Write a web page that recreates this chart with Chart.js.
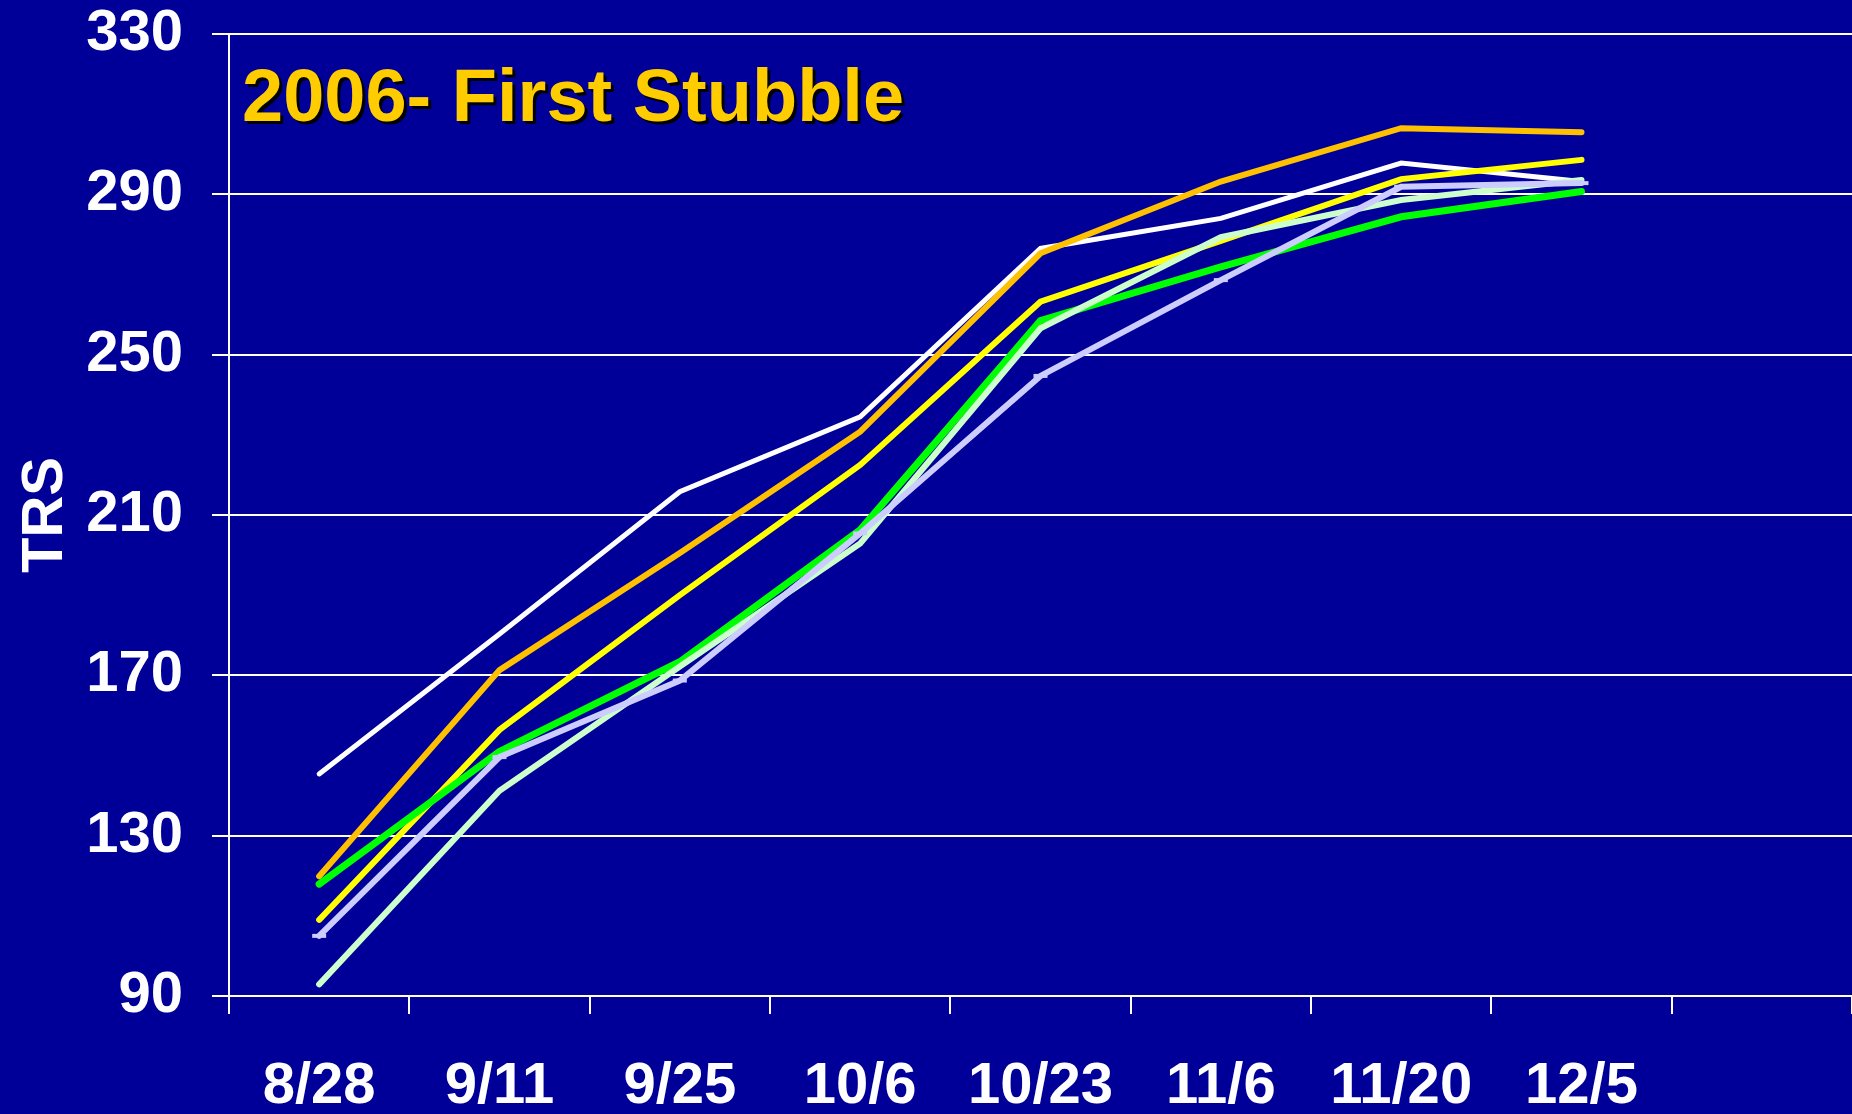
<!DOCTYPE html>
<html>
<head>
<meta charset="utf-8">
<title>2006- First Stubble</title>
<script src="https://cdn.jsdelivr.net/npm/chart.js@4.4.1/dist/chart.umd.min.js"></script>
<style>
  html, body { margin: 0; padding: 0; background: #000099; overflow: hidden; }
  #wrap { position: relative; width: 1852px; height: 1114px; }
  canvas { display: block; }
</style>
</head>
<body>
<div id="wrap"><canvas id="trsChart"></canvas></div>
<script>
  // sampling dates (last slot is the empty category at the right edge)
  const dates = ['8/28', '9/11', '9/25', '10/6', '10/23', '11/6', '11/20', '12/5', ''];
  const yTicks = [90, 130, 170, 210, 250, 290, 330];

  // TRS per sampling date, one array per line
  const lavenderLine = [105.0, 149.6, 168.7, 205.4, 244.7, 268.6, 291.9, 292.8];
  const mintLine = [92.9, 141.2, 172.2, 202.9, 256.6, 279.3, 288.6, 293.6];
  const greenLine = [117.9, 151.0, 173.4, 206.3, 258.5, 271.9, 284.4, 290.7];
  const yellowLine = [109.0, 156.4, 190.0, 222.5, 263.2, 278.4, 293.8, 298.6];
  const orangeLine = [119.9, 171.3, 200.5, 230.8, 275.3, 293.2, 306.5, 305.5];
  const whiteLine = [145.4, 180.3, 215.8, 234.5, 276.5, 284.0, 297.8, 293.2];

  const FONT = "'Liberation Sans', Arial, sans-serif";

  function line(label, data, color, width, extra) {
    return Object.assign({
      label: label,
      data: data,
      borderColor: color,
      backgroundColor: color,
      borderWidth: width,
      borderCapStyle: 'round',
      pointRadius: 0,
      tension: 0,
      fill: false
    }, extra || {});
  }

  const chartTitle = {
    id: 'chartTitle',
    afterDraw(chart) {
      const { ctx } = chart;
      ctx.save();
      ctx.font = 'bold 74px ' + FONT;
      ctx.textBaseline = 'alphabetic';
      ctx.shadowColor = '#000000';
      ctx.shadowOffsetX = 3;
      ctx.shadowOffsetY = 3;
      ctx.shadowBlur = 0;
      ctx.fillStyle = '#FFCC00';
      ctx.fillText('2006- First Stubble', 242, 121);
      ctx.restore();
    }
  };

  new Chart(document.getElementById('trsChart').getContext('2d'), {
    type: 'line',
    plugins: [chartTitle],
    data: {
      labels: dates,
      datasets: [
        line('Lavender', lavenderLine, '#CCCCFF', 6, { pointStyle: 'line', pointRadius: 7, pointBorderWidth: 4, pointBorderColor: '#CCCCFF' }),
        line('Mint', mintLine, '#CCFFCC', 6),
        line('Green', greenLine, '#00FF00', 7),
        line('Yellow', yellowLine, '#FFFF00', 6),
        line('Orange', orangeLine, '#FFC000', 6),
        line('White', whiteLine, '#FFFFFF', 5)
      ]
    },
    options: {
      responsive: true,
      maintainAspectRatio: false,
      animation: false,
      layout: { autoPadding: false, padding: { top: 34, right: 0, bottom: 0, left: 0 } },
      plugins: {
        legend: { display: false },
        tooltip: { enabled: false }
      },
      scales: {
        x: {
          offset: true,
          grid: {
            offset: true,
            drawOnChartArea: false,
            drawTicks: true,
            tickLength: 18,
            color: '#FFFFFF',
            lineWidth: 2
          },
          border: { display: false },
          ticks: {
            color: '#FFFFFF',
            padding: 38,
            maxRotation: 0,
            autoSkip: false,
            font: { family: FONT, size: 58, weight: 'bold' }
          },
          afterFit(scale) {
            scale.height = 118;
            scale.paddingLeft = 0;
            scale.paddingRight = 0;
          }
        },
        y: {
          min: yTicks[0],
          max: yTicks[yTicks.length - 1],
          afterBuildTicks(scale) {
            scale.ticks = yTicks.map(v => ({ value: v }));
          },
          grid: {
            color: '#FFFFFF',
            lineWidth: 2,
            tickLength: 17
          },
          border: { display: true, color: '#FFFFFF', width: 2 },
          ticks: {
            color: '#FFFFFF',
            padding: 29,
            font: { family: FONT, size: 58, weight: 'bold' }
          },
          title: {
            display: true,
            text: 'TRS',
            color: '#FFFFFF',
            padding: { top: 11, bottom: 0 },
            font: { family: FONT, size: 58, weight: 'bold' }
          },
          afterFit(scale) {
            scale.width = 229;
            scale.paddingTop = 0;
            scale.paddingBottom = 0;
          }
        }
      }
    }
  });
</script>
</body>
</html>
